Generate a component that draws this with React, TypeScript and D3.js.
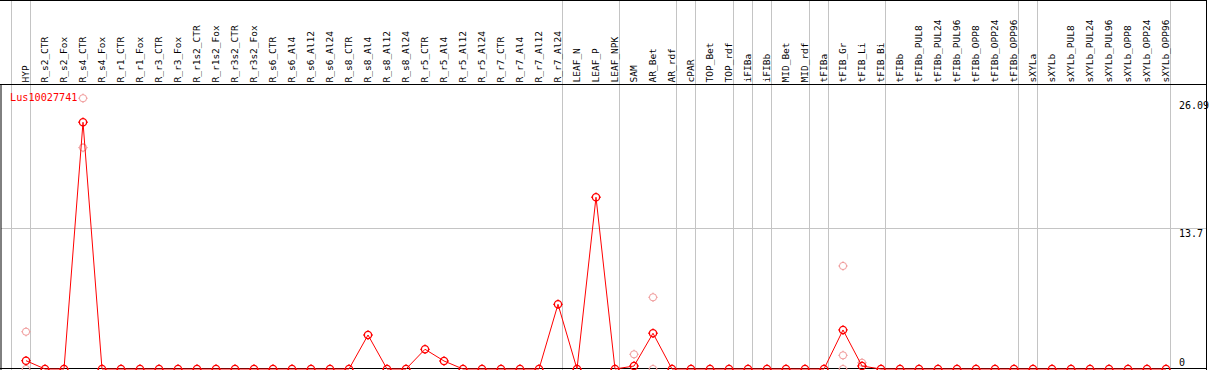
import React from "react";
import * as d3 from "d3";

const categories = ["HYP","R_s2_CTR","R_s2_Fox","R_s4_CTR","R_s4_Fox","R_r1_CTR","R_r1_Fox","R_r3_CTR","R_r3_Fox","R_r1s2_CTR","R_r1s2_Fox","R_r3s2_CTR","R_r3s2_Fox","R_s6_CTR","R_s6_Al4","R_s6_Al12","R_s6_Al24","R_s8_CTR","R_s8_Al4","R_s8_Al12","R_s8_Al24","R_r5_CTR","R_r5_Al4","R_r5_Al12","R_r5_Al24","R_r7_CTR","R_r7_Al4","R_r7_Al12","R_r7_Al24","LEAF_N","LEAF_P","LEAF_NPK","SAM","AR_Bet","AR_rdf","cPAR","TOP_Bet","TOP_rdf","iFIBa","iFIBb","MID_Bet","MID_rdf","tFIBa","tFIB_Gr","tFIB_Li","tFIB_Bi","tFIBb","tFIBb_PUL8","tFIBb_PUL24","tFIBb_PUL96","tFIBb_OPP8","tFIBb_OPP24","tFIBb_OPP96","sXYLa","sXYLb","sXYLb_PUL8","sXYLb_PUL24","sXYLb_PUL96","sXYLb_OPP8","sXYLb_OPP24","sXYLb_OPP96"];

const meanValues = [0.81,0,0,24.02,0,0,0,0,0,0,0,0,0,0,0,0,0,0,3.31,0,0,1.92,0.78,0,0,0,0,0,6.30,0,16.72,0,0.29,3.48,0,0,0,0,0,0,0,0,0,3.80,0.29,0,0,0,0,0,0,0,0,0,0,0,0,0,0,0,0];

// replicate values: [category, value]
const replicateCats = ["HYP","HYP","R_s4_CTR","R_s4_CTR","SAM","AR_Bet","AR_Bet","tFIB_Gr","tFIB_Gr","tFIB_Gr","tFIB_Li"];
const replicateVals = [3.63,0,26.36,21.55,1.43,6.98,0,10.03,1.33,0,0.61];

// group start categories (gray separators)
const groupStarts = ["HYP","R_s2_CTR","LEAF_N","SAM","cPAR","TOP_Bet","iFIBa","iFIBb","MID_Bet","tFIBa","tFIB_Gr","tFIBb","sXYLa","sXYLb"];

const yTicks = [0, 13.7, 26.09];
const geneName = "Lus10027741";

const W = 1209, H = 370;

function Marker({ x, y, color, sw }: { x: number; y: number; color: string; sw: number }) {
  const r = 3.6, t = 1.1;
  return (
    <g stroke={color} strokeWidth={sw} fill="none">
      <circle cx={x} cy={y} r={r} />
      <line x1={x} x2={x} y1={y - r - t} y2={y - r + 0.3} />
      <line x1={x} x2={x} y1={y + r - 0.3} y2={y + r + t} />
      <line x1={x - r - t} x2={x - r + 0.3} y1={y} y2={y} />
      <line x1={x + r - 0.3} x2={x + r + t} y1={y} y2={y} />
    </g>
  );
}

export default function App() {
  const x = d3.scalePoint<string>().domain(categories).range([26, 26 + 19 * (categories.length - 1)]);
  const y = d3.scaleLinear().domain([0, 26.09]).range([369, 101]);
  const step = 19;
  const sepOffset = -14.7;
  const lineGen = d3.line<number>().x((_, i) => x(categories[i]) as number).y((d) => y(d));
  const font = "'DejaVu Sans Mono', monospace";
  const right = 1206.5;
  const headerY = 84.5;
  const sepXs = groupStarts.map((c) => Math.round((x(c) as number) + sepOffset) + 0.5);
  sepXs.push(Math.round((x(categories[categories.length - 1]) as number) + step + sepOffset) + 0.5);

  return (
    <svg width={W} height={H} style={{ position: "absolute", left: 0, top: 0, display: "block", background: "#fff" }}>
      {/* separators */}
      {sepXs.map((sx, i) => (
        <line key={"s" + i} x1={sx} x2={sx} y1={0} y2={H} stroke="#c4c4c4" strokeWidth={1} />
      ))}
      {/* horizontal grid at middle tick */}
      {yTicks.filter((t) => t > 0 && t < 26).map((t) => (
        <line key={"g" + t} x1={1} x2={right} y1={Math.round(y(t)) + 0.5} y2={Math.round(y(t)) + 0.5} stroke="#c4c4c4" strokeWidth={1} />
      ))}
      {/* frame */}
      <line x1={0} x2={right} y1={0.5} y2={0.5} stroke="#000" />
      <line x1={0} x2={right} y1={headerY} y2={headerY} stroke="#000" />
      <line x1={1} x2={1} y1={headerY} y2={H} stroke="#000" />
      <line x1={right} x2={right} y1={0} y2={H} stroke="#000" />
      <line x1={0} x2={right} y1={368.5} y2={368.5} stroke="#000" />
      {/* header labels */}
      {categories.map((c) => {
        const cx = (x(c) as number) + 3;
        return (
          <text key={c} transform={`translate(${cx},82.5) rotate(-90)`} textAnchor="start" fontFamily={font} fontSize={9.5} fill="#000">
            {c}
          </text>
        );
      })}
      {/* y tick labels */}
      {yTicks.map((t) => (
        <text key={"t" + t} x={1179} y={t === 0 ? y(t) - 3.3 : y(t) + 8.3} fontFamily={font} fontSize={10} fill="#000">
          {String(t)}
        </text>
      ))}
      {/* legend */}
      <text x={10} y={100.7} fontFamily={font} fontSize={10.2} fill="#ff0000">{geneName}</text>
      {/* replicates */}
      {replicateCats.map((c, i) => (
        <Marker key={"r" + i} x={x(c) as number} y={y(replicateVals[i])} color="#f09a9a" sw={1} />
      ))}
      {/* mean line */}
      <path d={lineGen(meanValues) || ""} fill="none" stroke="#ff0000" strokeWidth={1} />
      {meanValues.map((v, i) => (
        <Marker key={"m" + i} x={x(categories[i]) as number} y={y(v)} color="#ff0000" sw={1.3} />
      ))}
    </svg>
  );
}
